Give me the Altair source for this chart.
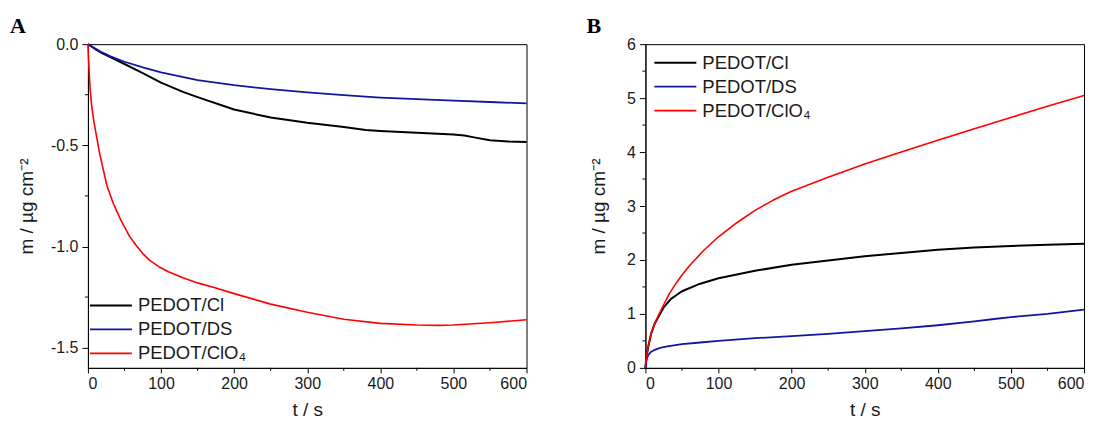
import altair as alt
import pandas as pd

# ---------------- data ----------------
series_names = ["PEDOT/Cl", "PEDOT/DS", "PEDOT/ClO\u2084"]
series_colors = ["#000000", "#1414a0", "#ff0000"]
series_widths = [2.0, 1.6, 2.3]

# Panel A: mass change during reduction
a_cl_t = [0, 10, 20, 30, 50, 75, 100, 130, 150, 200, 250, 300, 350, 380, 400, 450, 500, 515, 530, 550, 575, 600]
a_cl_m = [0, -0.024, -0.045, -0.063, -0.098, -0.143, -0.19, -0.236, -0.262, -0.323, -0.363, -0.389, -0.409, -0.424, -0.429, -0.438, -0.447, -0.452, -0.462, -0.475, -0.481, -0.483]

a_ds_t = [0, 10, 20, 30, 50, 75, 100, 150, 200, 250, 300, 350, 400, 450, 500, 550, 600]
a_ds_m = [0, -0.021, -0.042, -0.059, -0.087, -0.115, -0.140, -0.178, -0.203, -0.222, -0.238, -0.252, -0.264, -0.272, -0.279, -0.286, -0.293]

a_clo4_t = [0, 1, 2, 3, 5, 8, 12, 16, 21, 26, 35, 45, 57, 65, 75, 85, 97, 110, 130, 150, 175, 200, 250, 300, 350, 400, 450, 480, 500, 550, 600]
a_clo4_m = [0, -0.08, -0.16, -0.22, -0.30, -0.38, -0.46, -0.54, -0.62, -0.70, -0.79, -0.87, -0.95, -0.99, -1.035, -1.07, -1.10, -1.125, -1.155, -1.18, -1.205, -1.233, -1.285, -1.325, -1.36, -1.38, -1.388, -1.39, -1.388, -1.377, -1.362]

# Panel B: mass change during oxidation
b_cl_t = [0, 1, 2, 4, 8, 12, 18, 25, 35, 50, 75, 100, 150, 200, 250, 300, 350, 400, 450, 500, 550, 600]
b_cl_m = [0, 0.15, 0.25, 0.40, 0.64, 0.80, 0.95, 1.12, 1.28, 1.42, 1.56, 1.66, 1.80, 1.91, 1.99, 2.07, 2.13, 2.19, 2.23, 2.26, 2.28, 2.30]

b_ds_t = [0, 1, 2, 4, 7, 12, 20, 30, 50, 75, 100, 150, 200, 250, 300, 350, 400, 450, 480, 500, 550, 600]
b_ds_m = [0, 0.10, 0.17, 0.24, 0.29, 0.33, 0.37, 0.40, 0.44, 0.47, 0.50, 0.55, 0.59, 0.63, 0.68, 0.73, 0.79, 0.86, 0.91, 0.94, 1.00, 1.08]

b_clo4_t = [0, 1, 2, 4, 8, 12, 18, 25, 33, 42, 50, 62, 80, 100, 125, 150, 175, 200, 250, 300, 350, 400, 450, 500, 550, 600]
b_clo4_m = [0, 0.15, 0.25, 0.40, 0.64, 0.80, 0.98, 1.17, 1.38, 1.57, 1.72, 1.92, 2.18, 2.43, 2.69, 2.92, 3.11, 3.275, 3.535, 3.78, 4.00, 4.22, 4.43, 4.64, 4.85, 5.05]

# axis ticks
x_major = [0, 100, 200, 300, 400, 500, 600]
x_minor = [50, 150, 250, 350, 450, 550]
a_y_major = [0.0, -0.5, -1.0, -1.5]
a_y_minor = [-0.25, -0.75, -1.25]
b_y_major = [0, 1, 2, 3, 4, 5, 6]
b_y_minor = [0.5, 1.5, 2.5, 3.5, 4.5, 5.5]

# ---------------- layout / style ----------------
W, H = 439, 324
FONT = "Liberation Sans"
YTITLE = "m / \u00b5g cm\u207b\u00b2"


def frame(rows):
    out = []
    for name, ts, ms in rows:
        for t, m in zip(ts, ms):
            out.append({"series": name, "t": t, "m": m})
    return pd.DataFrame(out)


def panel(df, letter, letter_dx, ydomain, ymajor, yminor, yfmt, ytitle_pad, legend_x, legend_y):
    xs = alt.Scale(domain=[0, 600], nice=False, zero=False)
    ys = alt.Scale(domain=ydomain, nice=False, zero=False)
    xax = alt.Axis(values=x_major, title="t / s", titlePadding=9, format="d")
    yax = alt.Axis(values=ymajor, title=YTITLE, titlePadding=ytitle_pad, tickSize=6, labelPadding=4,
                   labelExpr="replace(format(datum.value, '" + yfmt + "'), '\u2212', '-')")
    lines = alt.Chart(df).mark_line(strokeCap="butt", strokeJoin="round").encode(
        x=alt.X("t:Q", scale=xs, axis=xax, title="t / s"),
        y=alt.Y("m:Q", scale=ys, axis=yax, title=YTITLE),
        color=alt.Color("series:N", scale=alt.Scale(domain=series_names, range=series_colors),
                        sort=series_names,
                        legend=alt.Legend(orient="none", legendX=legend_x, legendY=legend_y, title=None)),
        strokeWidth=alt.StrokeWidth("series:N", scale=alt.Scale(domain=series_names, range=series_widths), legend=None),
        detail="series:N",
    )
    xmin = alt.Chart(pd.DataFrame({"t": x_minor})).mark_rule(color="black", strokeWidth=1).encode(
        x=alt.X("t:Q", scale=xs, axis=xax, title="t / s"),
        y=alt.value(H), y2=alt.value(H + 3),
    )
    ymin = alt.Chart(pd.DataFrame({"m": yminor})).mark_rule(color="black", strokeWidth=1).encode(
        y=alt.Y("m:Q", scale=ys, axis=yax, title=YTITLE),
        x=alt.value(0), x2=alt.value(-3),
    )
    lab = alt.Chart(pd.DataFrame({"label": [letter]})).mark_text(
        font="Liberation Serif", fontWeight="bold", fontSize=22, align="left", baseline="alphabetic", color="black"
    ).encode(x=alt.value(letter_dx), y=alt.value(-11), text="label:N")
    return alt.layer(lines, xmin, ymin, lab).properties(width=W, height=H)


dfA = frame([(series_names[0], a_cl_t, a_cl_m), (series_names[1], a_ds_t, a_ds_m), (series_names[2], a_clo4_t, a_clo4_m)])
dfB = frame([(series_names[0], b_cl_t, b_cl_m), (series_names[1], b_ds_t, b_ds_m), (series_names[2], b_clo4_t, b_clo4_m)])

pA = panel(dfA, "A", -78, [-1.6, 0], a_y_major, a_y_minor, ".1f", 14, 1, 250)
pB = panel(dfB, "B", -59, [0, 6], b_y_major, b_y_minor, "d", 18, 8, 7)

chart = alt.hconcat(pA, pB, spacing=119, bounds="flush").resolve_scale(
    color="independent", strokeWidth="independent"
).resolve_legend(color="independent").properties(
    padding={"left": 1, "top": 6, "right": 5, "bottom": 5}
).configure_view(stroke="black", strokeWidth=1).configure_axis(
    grid=False, domainColor="black", domainWidth=1, tickColor="black", tickSize=5, tickWidth=1,
    labelFont=FONT, labelFontSize=16, labelColor="#1a1a1a", labelPadding=3,
    titleFont=FONT, titleFontSize=19, titleFontWeight="normal", titleColor="#1a1a1a",
).configure_legend(
    symbolType="M-1,0H3", symbolSize=441, symbolStrokeWidth=2, labelFont=FONT, labelFontSize=18.5,
    labelColor="#1a1a1a", labelOffset=26, rowPadding=3, padding=0, labelLimit=300,
)

chart.save("out.html", embed_options={"renderer": "svg", "actions": False})
